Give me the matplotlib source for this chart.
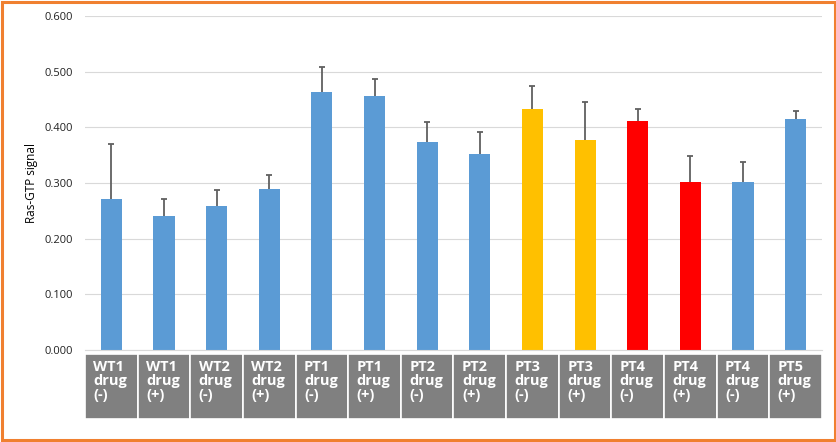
import numpy as np
import matplotlib.pyplot as plt
from matplotlib.patches import Rectangle
import matplotlib.transforms as mtransforms

# dados
samples = ["WT1", "WT1", "WT2", "WT2", "PT1", "PT1", "PT2", "PT2",
           "PT3", "PT3", "PT4", "PT4", "PT4", "PT5"]
drug = ["(-)", "(+)", "(-)", "(+)", "(-)", "(+)", "(-)", "(+)",
        "(-)", "(+)", "(-)", "(+)", "(-)", "(+)"]
means = [0.272, 0.241, 0.259, 0.289, 0.463, 0.457, 0.373, 0.352,
         0.432, 0.378, 0.412, 0.302, 0.302, 0.414]
errs = [0.098, 0.031, 0.029, 0.026, 0.046, 0.030, 0.036, 0.039,
        0.043, 0.068, 0.021, 0.046, 0.035, 0.015]
bar_colors = ["#5B9BD5"] * 8 + ["#FFC000"] * 2 + ["#FF0000"] * 2 + ["#5B9BD5"] * 2
yticks = [0.0, 0.1, 0.2, 0.3, 0.4, 0.5, 0.6]

plt.rcParams['font.family'] = ['Open Sans', 'DejaVu Sans']

fig = plt.figure(figsize=(8.37, 4.42), dpi=100)
ax = fig.add_axes([0.1016, 0.208, 0.8804, 0.756])

x = np.arange(len(means))
ax.bar(x, means, width=0.4, color=bar_colors, zorder=2)
_, caps, _ = ax.errorbar(x, means, yerr=[np.zeros(len(errs)), errs], fmt='none',
                         ecolor='#606060', elinewidth=1.3, capsize=2.5,
                         capthick=1.3, zorder=3)
caps[0].set_visible(False)  # só a barra de cima

ax.set_xlim(-0.5, len(means) - 0.5)
ax.set_ylim(0, 0.6)
ax.set_yticks(yticks)
ax.set_yticklabels([f"{v:.3f}" for v in yticks], fontsize=8, color='#222222')
ax.set_xticks([])
ax.tick_params(axis='y', length=0, pad=9)
ax.grid(axis='y', color='#D9D9D9', linewidth=0.8, zorder=0)
for s in ['top', 'right', 'left']:
    ax.spines[s].set_visible(False)
ax.spines['bottom'].set_color('#D9D9D9')
ax.set_ylabel("Ras-GTP signal", fontsize=8.5, labelpad=4)

# "tabela" de categorias em caixas cinzas abaixo do eixo
trans = mtransforms.blended_transform_factory(ax.transData, ax.transAxes)
for i in range(len(means)):
    ax.add_patch(Rectangle((i - 0.5, -0.207), 1.0, 0.195, transform=trans,
                           facecolor='#808080', edgecolor='white', linewidth=1.2,
                           clip_on=False, zorder=1))
    ax.text(i - 0.34, -0.03, f"{samples[i]}\ndrug\n{drug[i]}", transform=trans,
            ha='left', va='top', color='white', fontsize=10.5, fontweight='bold',
            linespacing=1.0, clip_on=False)

# moldura laranja
fig.patches.append(Rectangle((0.002, 0.004), 0.996, 0.992, transform=fig.transFigure,
                             fill=False, edgecolor='#F08030', linewidth=2.2))

fig.savefig("out.png", dpi=100)
